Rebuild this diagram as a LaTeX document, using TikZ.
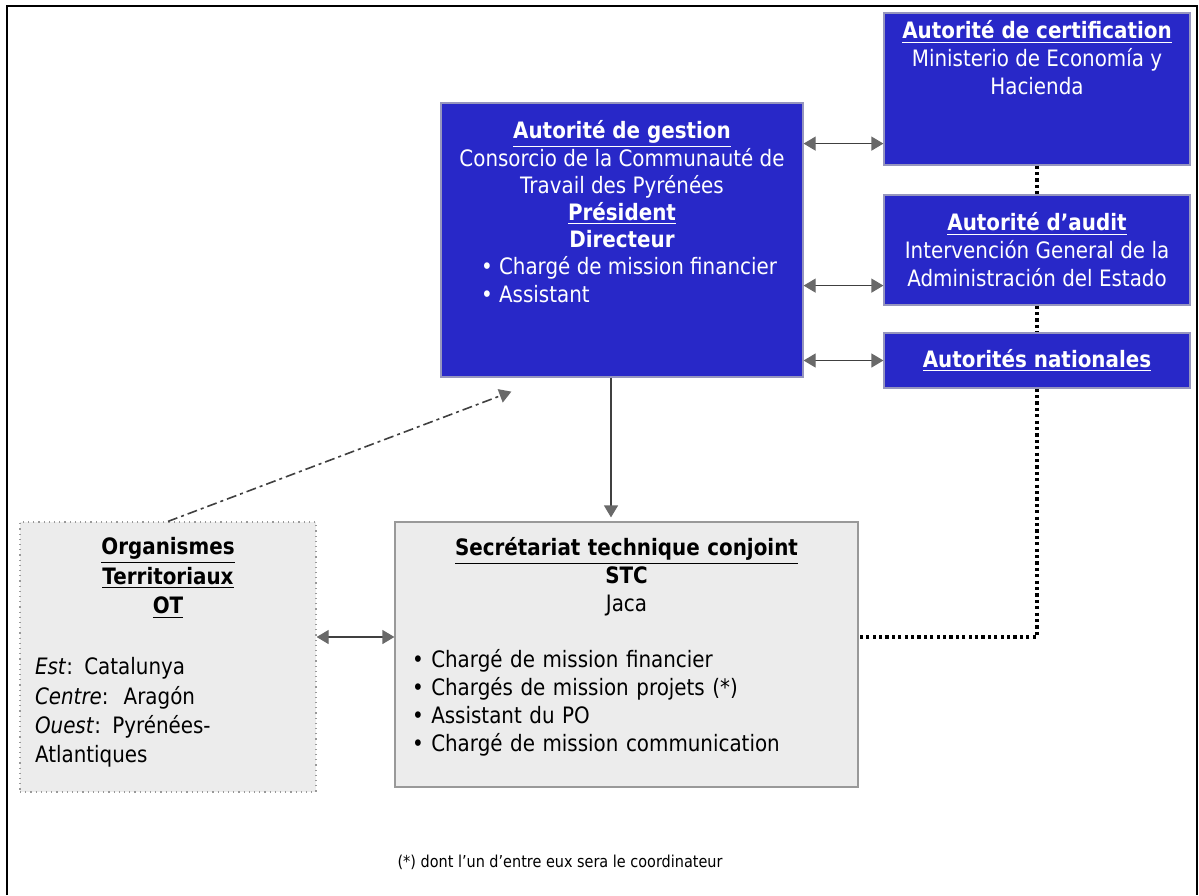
\documentclass[tikz,border=0pt]{standalone}
\usepackage{fontspec}
\setmainfont{DejaVu Sans}[FakeStretch=0.88]
\usetikzlibrary{arrows.meta, positioning}
\definecolor{agblue}{RGB}{40,40,200}
\definecolor{agedge}{RGB}{150,150,190}
\definecolor{stcgray}{RGB}{236,236,236}
\definecolor{tipgray}{RGB}{105,105,105}

\begin{document}
\begin{tikzpicture}[x=0.5pt, y=-0.5pt,
	bluebox/.style={draw=agedge, fill=agblue, line width=0.6pt, inner sep=0pt, text=white,
		font=\fontsize{11.3}{14}\selectfont, align=center},
	graybox/.style={draw=black!40, fill=stcgray, line width=0.6pt, inner sep=0pt},
	boxtext/.style={inner sep=0pt, font=\fontsize{11.3}{14}\selectfont},
	biarrow/.style={{Triangle[length=6pt,width=7pt,color=tipgray]}-{Triangle[length=6pt,width=7pt,color=tipgray]},
		draw=black!75, line width=0.6pt},
	onearrow/.style={-{Triangle[length=6pt,width=7pt,color=tipgray]}, draw=black!75, line width=0.6pt},
	dotline/.style={draw=black, line width=1.6pt, dash pattern=on 1.6pt off 1.6pt}
	]
	\useasboundingbox (0,0) rectangle (1199,895);
	% Outer frame (open at the bottom)
	\draw[line width=1pt] (7,895) -- (7,6) -- (1197,6) -- (1197,895);
	
	% Blue boxes
	\node[bluebox, minimum width=181pt, minimum height=137pt] (gestion) at (622,240) {};
	\node[boxtext, text=white, align=center, font=\fontsize{11.3}{13.6}\selectfont,
		below=9pt of gestion.north] (gestiontext)
		{\textbf{\underline{Autorité de gestion}}\\
		 Consorcio de la Communauté de\\
		 Travail des Pyrénées\\
		 \textbf{\underline{Président}}\\
		 \textbf{Directeur}\\
		 \hspace*{7pt}\begin{tabular}[t]{@{}l@{}}• Chargé de mission financier\\ • Assistant\end{tabular}};
	
	\node[bluebox, minimum width=153pt, minimum height=76pt] (cert) at (1037,89) {};
	\node[boxtext, text=white, align=center, below=4pt of cert.north] (certtext)
		{\textbf{\underline{Autorité de certification}}\\
		 Ministerio de Economía y\\
		 Hacienda};
	
	\node[bluebox, minimum width=153pt, minimum height=55pt] (audit) at (1037,250)
		{\textbf{\underline{Autorité d’audit}}\\
		 Intervención General de la\\
		 Administración del Estado};
	
	\node[bluebox, minimum width=153pt, minimum height=27.5pt] (natl) at (1037,360.5)
		{\textbf{\underline{Autorités nationales}}};
	
	% Grey boxes
	\node[graybox, dotted, minimum width=148pt, minimum height=135pt] (ot) at (168,657) {};
	\node[boxtext, text width=133pt, align=left, font=\fontsize{11.3}{14.7}\selectfont,
		below=8pt of ot.north] (ottext)
		{{\centering\textbf{\underline{Organismes}}\\
		  \textbf{\underline{Territoriaux}}\\
		  \textbf{\underline{OT}}\par}
		 \vspace{15.8pt}
		 \textit{Est}: Catalunya\\
		 \textit{Centre}:\ \ Aragón\\
		 \textit{Ouest}: Pyrénées-\\
		 Atlantiques};
	
	\node[graybox, minimum width=231.5pt, minimum height=132.5pt] (stc) at (626.5,654.5) {};
	\node[boxtext, text width=214.5pt, align=left, below=8pt of stc.north] (stctext)
		{{\centering\textbf{\underline{Secrétariat technique conjoint}}\\
		  \textbf{STC}\\
		  Jaca\par}
		 \vspace{14pt}
		 • Chargé de mission financier\\
		 • Chargés de mission projets (*)\\
		 • Assistant du PO\\
		 • Chargé de mission communication};
	
	\node[inner sep=0pt, font=\fontsize{8.2}{10}\selectfont] (footnote) at (560,862)
		{(*) dont l’un d’entre eux sera le coordinateur};
	
	% Connectors
	\draw[biarrow] ([yshift=11pt]cert.south west -| gestion.east) -- ([yshift=11pt]cert.south west);
	\draw[biarrow] ([yshift=10pt]audit.south west -| gestion.east) -- ([yshift=10pt]audit.south west);
	\draw[biarrow] (natl.west -| gestion.east) -- (natl.west);
	\draw[onearrow] ([xshift=-5.5pt]gestion.south) -- ([xshift=-5.5pt, yshift=2pt]gestion.south |- stc.north);
	\draw[biarrow] ([yshift=10pt]ot.east) -- ([yshift=10pt]ot.east -| stc.west);
	\draw[onearrow, line width=0.8pt, dash pattern=on 5pt off 2pt on 1.5pt off 2pt] (ot.north)
		-- ([xshift=35.5pt, yshift=-7pt]gestion.south west);
	
	\draw[dotline] (cert.south) -- (audit.north);
	\draw[dotline] (audit.south) -- (natl.north);
	\draw[dotline] (natl.south) |- ([yshift=8.75pt]stc.east);
\end{tikzpicture}
\end{document}
